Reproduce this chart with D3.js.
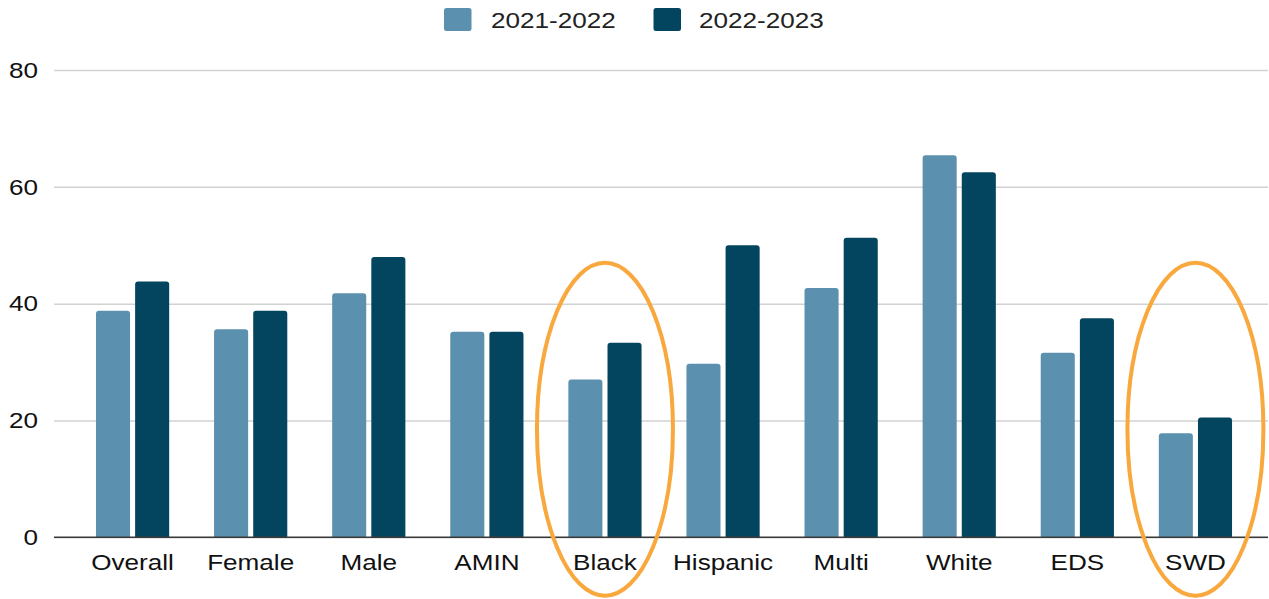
<!DOCTYPE html>
<html>
<head>
<meta charset="utf-8">
<script src="https://cdn.jsdelivr.net/npm/d3@7/dist/d3.min.js"></script>
<style>
  html, body { margin: 0; padding: 0; background: #ffffff; }
  svg { display: block; font-family: "Liberation Sans", Arial, sans-serif; }
</style>
</head>
<body>
<svg id="chart" width="1269" height="599"></svg>
<script>
// Student groups along the x axis
const categories = ["Overall", "Female", "Male", "AMIN", "Black", "Hispanic", "Multi", "White", "EDS", "SWD"];
// School years shown as the two bar series
const seriesNames = ["2021-2022", "2022-2023"];
const values2122 = [38.8, 35.6, 41.8, 35.2, 27.0, 29.7, 42.7, 65.4, 31.6, 17.8];
const values2223 = [43.8, 38.8, 48.0, 35.2, 33.3, 50.0, 51.3, 62.5, 37.5, 20.5];
const yTicks = [0, 20, 40, 60, 80];
// Groups circled for emphasis
const highlighted = ["Black", "SWD"];

const colors = { "2021-2022": "#5b91ae", "2022-2023": "#03445f" };
const fontSize = 22.5;
const stretch = 1.16;

const svg = d3.select("#chart");
const plotLeft = 54, plotRight = 1268, plotTop = 70, plotBottom = 537.3;

const y = d3.scaleLinear().domain([0, 80]).range([plotBottom, plotTop]);
const x0 = d3.scaleBand().domain(categories).range([57, 1271]).paddingInner(0.38).paddingOuter(0.33);
const x1 = d3.scaleBand().domain(seriesNames).range([0, x0.bandwidth()]).paddingInner(0.13);

const rows = categories.map((c, i) => ({
  category: c,
  values: [
    { series: "2021-2022", value: values2122[i] },
    { series: "2022-2023", value: values2223[i] }
  ]
}));

// Y axis with full-width gridlines
const yAxis = svg.append("g")
  .attr("transform", `translate(${plotLeft},0)`)
  .call(d3.axisLeft(y).tickValues(yTicks).tickSize(-(plotRight - plotLeft)).tickPadding(16).tickFormat(d3.format("d")));
yAxis.select(".domain").remove();
yAxis.selectAll(".tick line").attr("stroke", "#d2d2d2").attr("stroke-width", 1.5);
yAxis.selectAll(".tick text")
  .attr("fill", "#111")
  .attr("font-size", fontSize)
  .attr("transform", function () { return `translate(${d3.select(this).attr("x")},0) scale(${stretch},1)`; })
  .attr("x", 0);

// Bars with slightly rounded tops
function barPath(x, yTop, w, h, r) {
  r = Math.min(r, h, w / 2);
  return `M${x},${yTop + h}V${yTop + r}Q${x},${yTop} ${x + r},${yTop}H${x + w - r}Q${x + w},${yTop} ${x + w},${yTop + r}V${yTop + h}Z`;
}

const groups = svg.append("g").selectAll("g")
  .data(rows).join("g")
  .attr("transform", d => `translate(${x0(d.category)},0)`);

groups.selectAll("path")
  .data(d => d.values).join("path")
  .attr("fill", d => colors[d.series])
  .attr("d", d => barPath(x1(d.series), y(d.value), x1.bandwidth(), y(0) - y(d.value), 3));

// Baseline
svg.append("line")
  .attr("x1", plotLeft).attr("x2", plotRight)
  .attr("y1", y(0)).attr("y2", y(0))
  .attr("stroke", "#3a3a3a").attr("stroke-width", 1.5);

// X axis labels
const xAxis = svg.append("g")
  .attr("transform", `translate(0,${y(0)})`)
  .call(d3.axisBottom(x0).tickSize(0).tickPadding(17));
xAxis.select(".domain").remove();
xAxis.selectAll(".tick text")
  .attr("fill", "#111")
  .attr("font-size", fontSize)
  .attr("transform", `scale(${stretch},1)`);

// Orange ellipses around highlighted groups
svg.append("g").selectAll("ellipse")
  .data(highlighted).join("ellipse")
  .attr("cx", d => x0(d) + x0.bandwidth() / 2)
  .attr("cy", (y(47) + y(-10)) / 2)
  .attr("rx", 68)
  .attr("ry", (y(-10) - y(47)) / 2)
  .attr("fill", "none")
  .attr("stroke", "#f8a83d")
  .attr("stroke-width", 4);

// Legend
const legendItems = [
  { name: "2021-2022", sx: 444, tx: 491 },
  { name: "2022-2023", sx: 653.5, tx: 699 }
];
const legend = svg.append("g").selectAll("g").data(legendItems).join("g");
legend.append("rect")
  .attr("x", d => d.sx).attr("y", 8)
  .attr("width", 27.5).attr("height", 23)
  .attr("rx", 2.5)
  .attr("fill", d => colors[d.name]);
legend.append("text")
  .attr("transform", d => `translate(${d.tx},27.5) scale(${stretch},1)`)
  .attr("font-size", fontSize)
  .attr("fill", "#222")
  .text(d => d.name);
</script>
</body>
</html>
